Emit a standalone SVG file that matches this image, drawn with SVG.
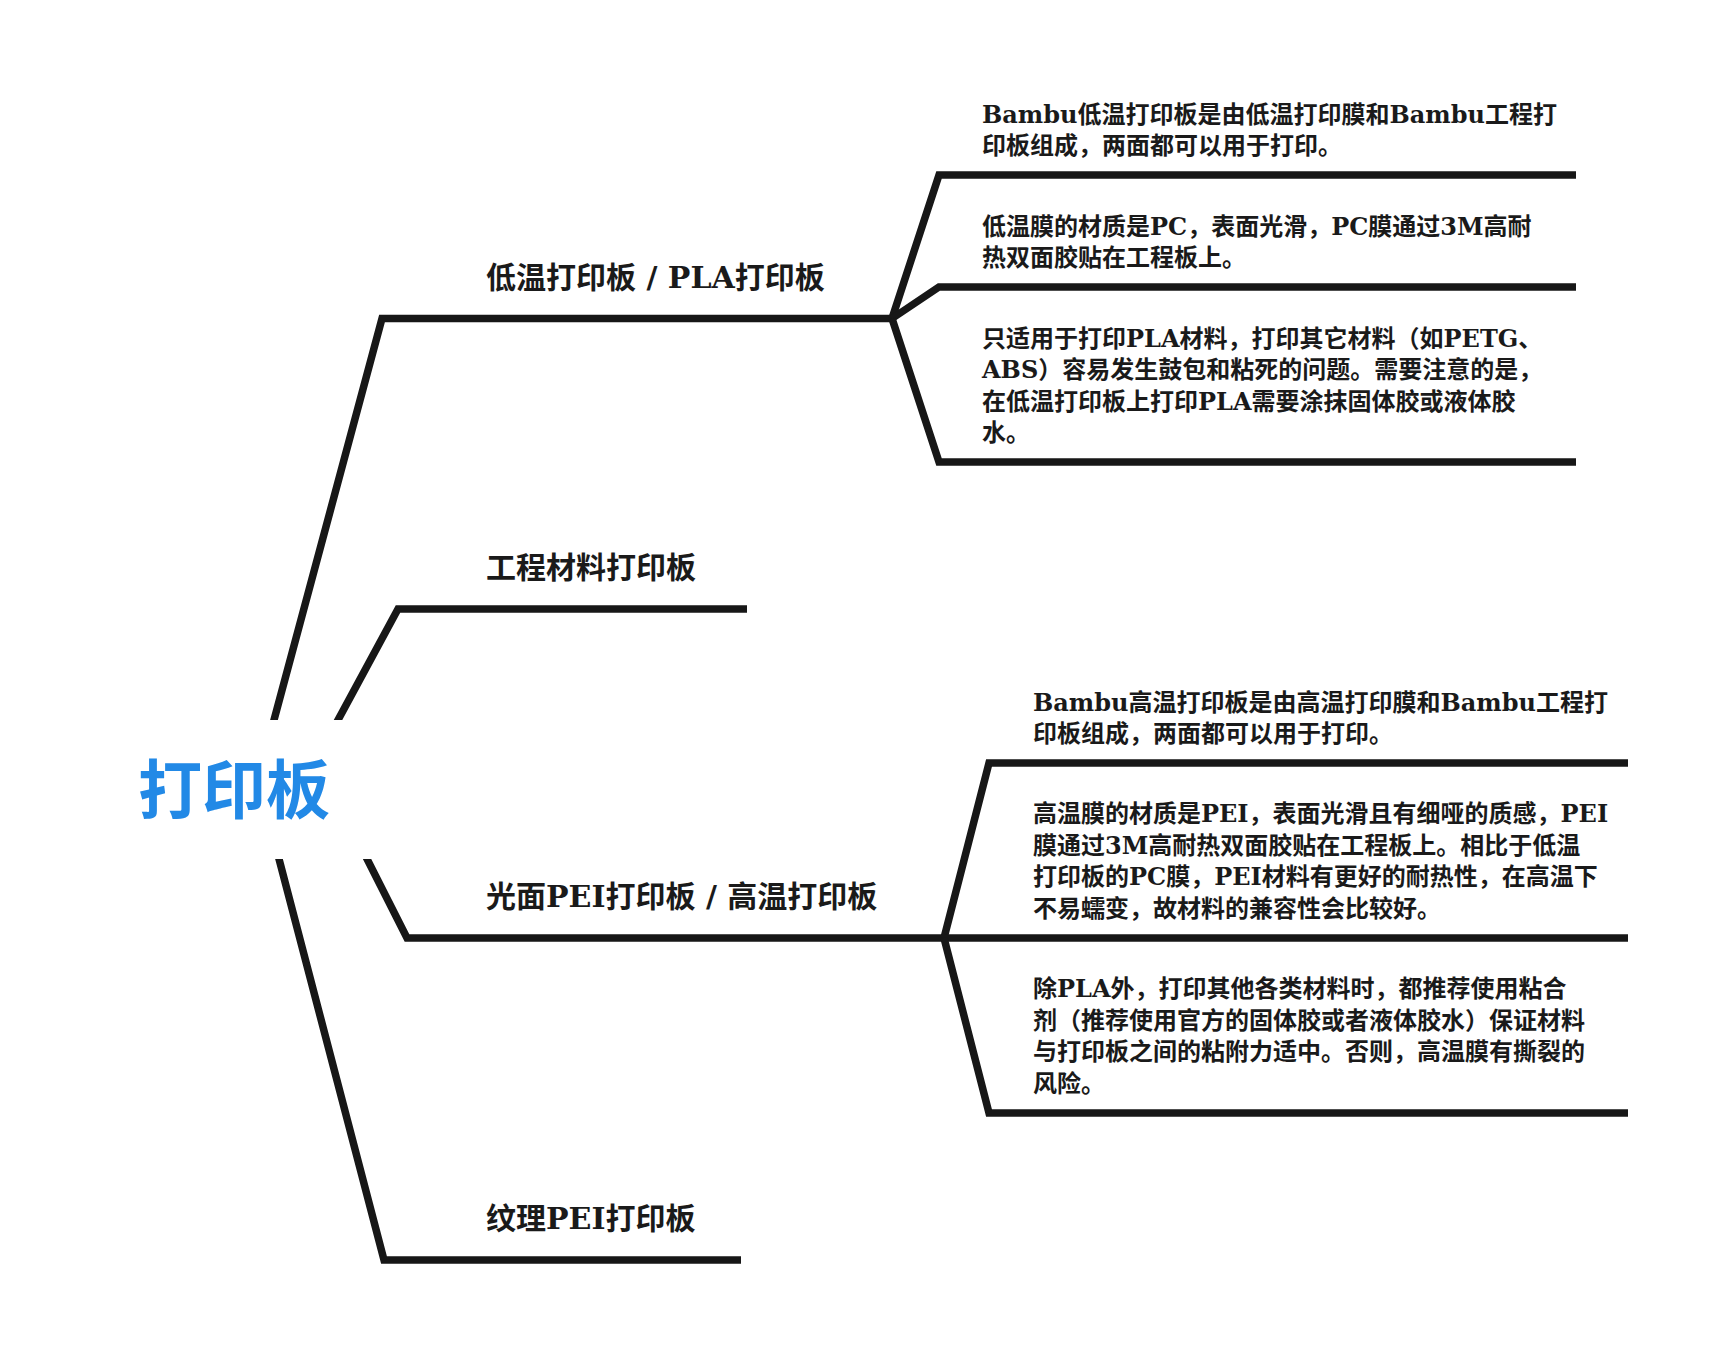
<svg xmlns="http://www.w3.org/2000/svg" width="1716" height="1352" viewBox="0 0 1716 1352">
  <defs>
    <style>
      .ln { fill: none; stroke: #171717; stroke-width: 7.5; stroke-linejoin: miter; stroke-linecap: butt; }
      .lbl { font-family: 'DejaVu Serif', 'Noto Sans CJK SC', serif; font-weight: bold; font-size: 30px; fill: #1a1a1a; }
      .txt { font-family: 'DejaVu Serif', 'Noto Sans CJK SC', serif; font-weight: bold; font-size: 24px; fill: #1a1a1a; }
      .title { font-family: 'Noto Sans CJK SC', sans-serif; font-weight: bold; font-size: 64px; fill: #2289e6; }
    </style>
    <clipPath id="gap">
      <rect x="0" y="0" width="1716" height="720"/>
      <rect x="0" y="859" width="1716" height="493"/>
    </clipPath>
  </defs>
  <rect width="1716" height="1352" fill="#ffffff"/>

  <g id="connectors">
    <g clip-path="url(#gap)">
      <path class="ln" d="M271.3,730 L382,318.5 L892,318.5"/>
      <path class="ln" d="M332.6,730 L398,609 L747,609"/>
      <path class="ln" d="M362,849 L407,938 L944,938"/>
      <path class="ln" d="M276.4,849 L384,1260 L741,1260"/>
    </g>
    <path class="ln" d="M892,318.5 L939,175 L1576,175"/>
    <path class="ln" d="M892,318.5 L939,287 L1576,287"/>
    <path class="ln" d="M892,318.5 L939,462 L1576,462"/>
    <path class="ln" d="M944,938 L989,763 L1628,763"/>
    <path class="ln" d="M944,938 L1628,938"/>
    <path class="ln" d="M944,938 L989,1113 L1628,1113"/>
  </g>

  <g id="root">
    <text class="title" x="138" y="813">打印板</text>
  </g>

  <g id="node-low">
    <text class="lbl" x="486" y="288">低温打印板 / PLA打印板</text>
  </g>
  <g id="node-eng">
    <text class="lbl" x="486" y="578">工程材料打印板</text>
  </g>
  <g id="node-smooth">
    <text class="lbl" x="486" y="907">光面PEI打印板 / 高温打印板</text>
  </g>
  <g id="node-textured">
    <text class="lbl" x="486" y="1229">纹理PEI打印板</text>
  </g>

  <g id="node-low-1">
    <text class="txt" x="982" y="122.5">Bambu低温打印板是由低温打印膜和Bambu工程打</text>
    <text class="txt" x="982" y="154">印板组成，两面都可以用于打印。</text>
  </g>
  <g id="node-low-2">
    <text class="txt" x="982" y="234.5">低温膜的材质是PC，表面光滑，PC膜通过3M高耐</text>
    <text class="txt" x="982" y="266">热双面胶贴在工程板上。</text>
  </g>
  <g id="node-low-3">
    <text class="txt" x="982" y="346.5">只适用于打印PLA材料，打印其它材料（如PETG、</text>
    <text class="txt" x="982" y="378">ABS）容易发生鼓包和粘死的问题。需要注意的是，</text>
    <text class="txt" x="982" y="409.5">在低温打印板上打印PLA需要涂抹固体胶或液体胶</text>
    <text class="txt" x="982" y="441">水。</text>
  </g>

  <g id="node-high-1">
    <text class="txt" x="1033" y="710.5">Bambu高温打印板是由高温打印膜和Bambu工程打</text>
    <text class="txt" x="1033" y="742">印板组成，两面都可以用于打印。</text>
  </g>
  <g id="node-high-2">
    <text class="txt" x="1033" y="822">高温膜的材质是PEI，表面光滑且有细哑的质感，PEI</text>
    <text class="txt" x="1033" y="853.5">膜通过3M高耐热双面胶贴在工程板上。相比于低温</text>
    <text class="txt" x="1033" y="885">打印板的PC膜，PEI材料有更好的耐热性，在高温下</text>
    <text class="txt" x="1033" y="916.5">不易蠕变，故材料的兼容性会比较好。</text>
  </g>
  <g id="node-high-3">
    <text class="txt" x="1033" y="997">除PLA外，打印其他各类材料时，都推荐使用粘合</text>
    <text class="txt" x="1033" y="1028.5">剂（推荐使用官方的固体胶或者液体胶水）保证材料</text>
    <text class="txt" x="1033" y="1060">与打印板之间的粘附力适中。否则，高温膜有撕裂的</text>
    <text class="txt" x="1033" y="1091.5">风险。</text>
  </g>
</svg>
